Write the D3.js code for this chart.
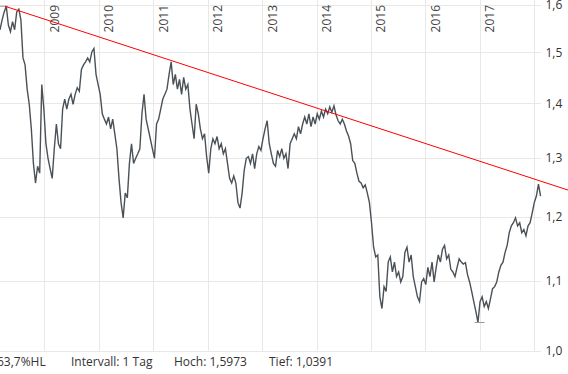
<!DOCTYPE html>
<html><head><meta charset="utf-8">
<script src="https://cdn.jsdelivr.net/npm/d3@7"></script>
<style>
html,body{margin:0;padding:0;background:#fff;}
svg{display:block;font-family:"Open Sans",sans-serif;}
</style></head><body>
<svg id="chart" width="568" height="374"></svg>
<script>
// ---- data ----
const startDate = "2008-03-10";   // first observation
const stepDays = 14;              // spacing of observations
const values = [
1.547,1.568,1.585,1.5973,1.557,1.543,1.564,1.547,1.585,1.591,
1.568,1.489,1.475,1.427,1.398,1.352,1.290,1.256,1.285,1.273,
1.436,1.389,1.325,1.299,1.281,1.264,1.316,1.361,1.325,1.316,
1.389,1.408,1.389,1.408,1.417,1.398,1.417,1.430,1.423,1.466,
1.475,1.481,1.489,1.481,1.501,1.508,1.456,1.436,1.417,1.380,
1.370,1.361,1.374,1.352,1.370,1.343,1.316,1.264,1.223,1.198,
1.239,1.231,1.290,1.325,1.290,1.299,1.307,1.316,1.380,1.417,
1.370,1.352,1.334,1.316,1.299,1.361,1.370,1.389,1.408,1.417,
1.427,1.456,1.481,1.436,1.456,1.427,1.446,1.417,1.450,1.427,
1.436,1.389,1.361,1.334,1.398,1.380,1.352,1.334,1.343,1.302,
1.273,1.316,1.334,1.325,1.338,1.316,1.325,1.307,1.316,1.290,
1.264,1.256,1.268,1.256,1.223,1.214,1.239,1.278,1.299,1.302,
1.290,1.307,1.281,1.307,1.320,1.313,1.334,1.352,1.367,1.325,
1.307,1.290,1.285,1.313,1.302,1.316,1.299,1.307,1.281,1.325,
1.334,1.343,1.334,1.356,1.343,1.361,1.374,1.361,1.380,1.356,
1.374,1.361,1.380,1.370,1.385,1.374,1.389,1.380,1.393,1.383,
1.395,1.378,1.367,1.361,1.370,1.361,1.348,1.339,1.325,1.295,
1.290,1.273,1.259,1.256,1.248,1.253,1.239,1.223,1.190,1.151,
1.136,1.139,1.076,1.059,1.091,1.084,1.128,1.136,1.113,1.128,
1.106,1.113,1.098,1.106,1.143,1.151,1.128,1.139,1.106,1.091,
1.076,1.069,1.098,1.103,1.094,1.120,1.106,1.128,1.098,1.120,
1.139,1.128,1.148,1.154,1.133,1.139,1.117,1.113,1.106,1.120,
1.133,1.128,1.125,1.127,1.109,1.098,1.084,1.069,1.055,1.0391,
1.069,1.076,1.062,1.069,1.059,1.073,1.088,1.091,1.098,1.113,
1.123,1.128,1.143,1.154,1.174,1.185,1.190,1.198,1.185,1.190,
1.174,1.179,1.169,1.185,1.190,1.206,1.223,1.234,1.254,1.234
];
const yearTicks = [2009,2010,2011,2012,2013,2014,2015,2016,2017,2018];
const yearLabels = ["2009","2010","2011","2012","2013","2014","2015","2016","2017"];
const yTicks = [1.0,1.1,1.2,1.3,1.4,1.5,1.6];
const yTickLabels = ["1,0","1,1","1,2","1,3","1,4","1,5","1,6"];
const trendDates = ["2008-04-12","2011-04-29"];
const trendValues = [1.5973,1.484];
const markerDates = ["2008-03-31","2016-12-30"];
const markerValues = [1.5973,1.0391];
const infoTexts = ["63,7%HL","Intervall: 1 Tag","Hoch: 1,5973","Tief: 1,0391"];

// ---- chart ----
const W = 568, H = 374;
const plotRight = 541, plotBottom = 350.7;
const svg = d3.select("#chart");
const parse = d3.utcParse("%Y-%m-%d");
const t0 = parse(startDate);
const data = values.map((v,i)=>({date:d3.utcDay.offset(t0, i*stepDays), value:v}));

const x = d3.scaleUtc()
  .domain([Date.UTC(2009,0,1), Date.UTC(2018,0,1)])
  .range([44.3, 534.3]);
const y = d3.scaleLog().domain([1.0,1.6]).range([plotBottom, 5]);

const grid = svg.append("g").attr("stroke","#e8e8e8").attr("stroke-width",1);
grid.selectAll("line.h").data(yTicks).join("line")
  .attr("x1",0).attr("x2",plotRight)
  .attr("y1",d=>Math.round(y(d))+0.5).attr("y2",d=>Math.round(y(d))+0.5);
grid.selectAll("line.v").data(yearTicks).join("line")
  .attr("x1",d=>Math.round(x(Date.UTC(d,0,1)))+0.5).attr("x2",d=>Math.round(x(Date.UTC(d,0,1)))+0.5)
  .attr("y1",0).attr("y2",plotBottom);

// year labels
svg.append("g").selectAll("text").data(yearLabels).join("text")
  .attr("transform",d=>`translate(${x(Date.UTC(+d,0,1))+14.5},5) rotate(-90)`)
  .attr("text-anchor","end")
  .attr("font-size",12).attr("fill","#444")
  .text(d=>d);

// y labels
svg.append("g").selectAll("text").data(yTicks).join("text")
  .attr("x",545.5).attr("y",d=>y(d)).attr("dy","0.36em")
  .attr("font-size",12).attr("fill","#333")
  .text((d,i)=>yTickLabels[i]);

// price line
const line = d3.line().x(d=>x(d.date)).y(d=>y(d.value));
svg.append("path").datum(data)
  .attr("fill","none").attr("stroke","#4a5157").attr("stroke-width",1.4)
  .attr("stroke-linejoin","miter")
  .attr("d",line);

// high / low markers
svg.append("g").selectAll("line").data(markerDates).join("line")
  .attr("x1",(d,i)=>x(parse(d))-5).attr("x2",(d,i)=>x(parse(d))+5)
  .attr("y1",(d,i)=>y(markerValues[i])).attr("y2",(d,i)=>y(markerValues[i]))
  .attr("stroke","#999").attr("stroke-width",1);

// trend line extended to the right edge
const p1 = [x(parse(trendDates[0])), y(trendValues[0])];
const p2 = [x(parse(trendDates[1])), y(trendValues[1])];
const slope = (p2[1]-p1[1])/(p2[0]-p1[0]);
svg.append("line")
  .attr("x1",p1[0]).attr("y1",p1[1])
  .attr("x2",W).attr("y2",p1[1]+slope*(W-p1[0]))
  .attr("stroke","#ff0000").attr("stroke-width",1);

// info texts
const infoX = [45.7, 71, 174, 269];
svg.append("g").selectAll("text").data(infoTexts).join("text")
  .attr("x",(d,i)=>infoX[i]).attr("y",366)
  .attr("text-anchor",(d,i)=>i===0?"end":"start")
  .attr("font-size",12).attr("fill","#333")
  .text(d=>d);
</script>
</body></html>
